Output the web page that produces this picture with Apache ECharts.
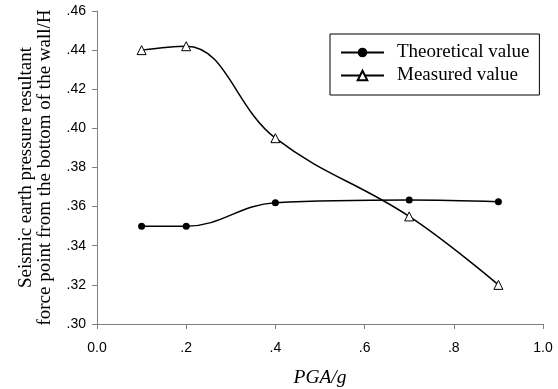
<!DOCTYPE html>
<html>
<head>
  <meta charset="UTF-8">
  <title>PGA chart</title>
  <script src="https://cdn.jsdelivr.net/npm/echarts@6/dist/echarts.min.js"></script>
  <style>
    html, body { margin: 0; padding: 0; background: #fff; }
  </style>
</head>
<body>
  <div id="chart" style="width:558px; height:389px;"></div>
  <script>
    // data
    var pga = [0.1, 0.2, 0.4, 0.7, 0.9];
    var theoretical = [0.350, 0.350, 0.362, 0.3634, 0.3625];
    var measured = [0.440, 0.442, 0.395, 0.355, 0.320];
    var xTickLabels = ['0.0', '.2', '.4', '.6', '.8', '1.0'];
    var yTickLabels = ['.30', '.32', '.34', '.36', '.38', '.40', '.42', '.44', '.46'];

    function pairs(xs, ys) {
      return xs.map(function (x, i) { return [x, ys[i]]; });
    }

    var axisGray = '#808080';
    var chart = echarts.init(document.getElementById('chart'), null, {renderer: 'canvas'});
    chart.setOption({
      animation: false,
      grid: {left: 97, right: 15, top: 11, bottom: 65, outerBoundsMode: 'none'},
      legend: {
        orient: 'vertical',
        left: 330,
        top: 34,
        padding: [9, 10, 10, 10],
        itemWidth: 43,
        itemHeight: 12,
        itemGap: 4,
        borderColor: '#000',
        borderWidth: 1,
        textStyle: {fontFamily: 'Liberation Serif', fontSize: 19, color: '#000', padding: [0, 0, 0, 8]},
        data: ['Theoretical value', 'Measured value']
      },
      xAxis: {
        type: 'value',
        min: 0, max: 1, interval: 0.2,
        name: 'PGA/g',
        nameLocation: 'middle',
        nameGap: 44,
        nameTextStyle: {fontFamily: 'Liberation Serif', fontSize: 19.5, fontStyle: 'italic', color: '#000'},
        axisLine: {show: true, lineStyle: {color: axisGray, width: 1}},
        axisTick: {show: true, length: 5, lineStyle: {color: axisGray}},
        splitLine: {show: false},
        axisLabel: {
          fontFamily: 'Liberation Sans', fontSize: 14, color: '#000', margin: 17,
          formatter: function (v) { return xTickLabels[Math.round(v / 0.2)]; }
        }
      },
      yAxis: {
        type: 'value',
        min: 0.30, max: 0.46, interval: 0.02,
        name: 'Seismic earth pressure resultant\nforce point from the bottom of the wall/H',
        nameLocation: 'middle',
        nameRotate: 90,
        nameGap: 42,
        nameTextStyle: {fontFamily: 'Liberation Serif', fontSize: 19, color: '#000', lineHeight: 19},
        axisLine: {show: true, lineStyle: {color: axisGray, width: 1}},
        axisTick: {show: true, length: 5, lineStyle: {color: axisGray}},
        splitLine: {show: false},
        axisLabel: {
          fontFamily: 'Liberation Sans', fontSize: 14, color: '#000', margin: 11,
          formatter: function (v) { return yTickLabels[Math.round((v - 0.30) / 0.02)]; }
        }
      },
      series: [
        {
          name: 'Theoretical value',
          type: 'line',
          smooth: 0.4,
          data: pairs(pga, theoretical),
          symbol: 'circle',
          symbolSize: 7,
          itemStyle: {color: '#000'},
          lineStyle: {color: '#000', width: 1.5}
        },
        {
          name: 'Measured value',
          type: 'line',
          smooth: 0.4,
          data: pairs(pga, measured),
          symbol: 'triangle',
          symbolSize: 9,
          itemStyle: {color: '#fff', borderColor: '#000', borderWidth: 1},
          lineStyle: {color: '#000', width: 1.5}
        }
      ]
    });
  </script>
</body>
</html>
